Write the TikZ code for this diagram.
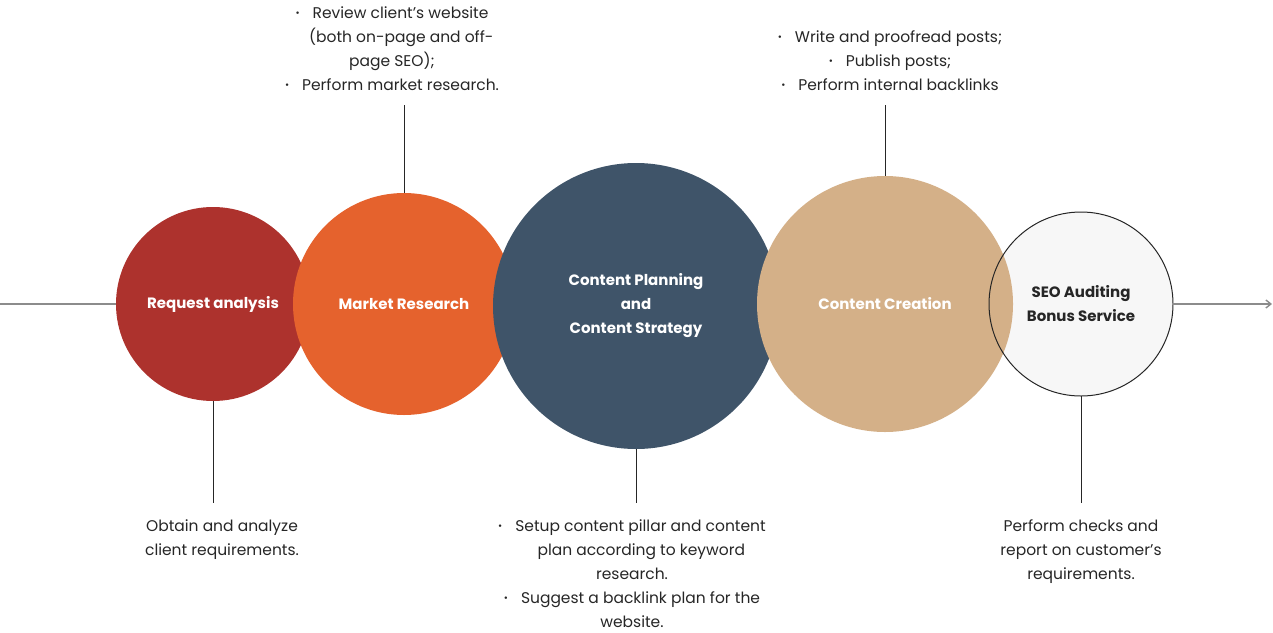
\documentclass[tikz,border=0pt]{standalone}
\usepackage{fontspec}
\setmainfont{Poppins}
\usetikzlibrary{arrows.meta, positioning}
\definecolor{reqred}{RGB}{173,50,45}
\definecolor{mktorange}{RGB}{229,98,45}
\definecolor{planslate}{RGB}{63,84,105}
\definecolor{createtan}{RGB}{212,176,136}
\definecolor{auditgray}{RGB}{247,247,247}
\definecolor{textdark}{RGB}{38,38,38}
\definecolor{flowgray}{RGB}{140,140,140}
\newcommand{\bul}{\makebox[1.1em][l]{\raisebox{0.12em}{\fontsize{10}{10}\selectfont •}}}

\begin{document}
\begin{tikzpicture}[
        x=1pt, y=-1pt,
        stage/.style={circle, inner sep=0pt, align=center, text=white,
                      font=\fontsize{15}{24}\selectfont\bfseries},
        note/.style={align=center, inner sep=0pt, text=textdark,
                     font=\fontsize{15.5}{24}\selectfont},
        link/.style={line width=1pt, textdark},
        flow/.style={line width=1.4pt, flowgray},
      ]
        \useasboundingbox (0,0) rectangle (1273,632);

        % Stages, each one over the last
        \node[stage, fill=reqred, minimum size=194pt]    (req)  at (213,304) {Request analysis};
        \node[stage, fill=mktorange, minimum size=222pt] (mkt)  at (404,304) {Market Research};
        \node[stage, fill=planslate, minimum size=286pt] (plan) at (636,306) {Content Planning\\and\\Content Strategy};
        \node[stage, fill=auditgray, text=textdark, minimum size=184pt] (audit) at (1081,304) {SEO Auditing\\Bonus Service};
        \node[stage, fill=createtan, minimum size=256pt] (create) at (885,304) {Content Creation};
        \draw[line width=1pt, textdark] (audit.center) circle[radius=92];

        % Flow in and out
        \coordinate (start) at (0,304);
        \coordinate (finish) at (1272,304);
        \draw[flow] (start) -- (req.west);
        \draw[flow, -{Straight Barb[length=5pt, width=8pt]}] (audit.east) -- (finish);

        % Leader ends
        \coordinate (reqend)    at (213,503);
        \coordinate (mktend)    at (404,105);
        \coordinate (planend)   at (636,503);
        \coordinate (createend) at (885,105);
        \coordinate (auditend)  at (1081,503);

        \draw[link] (req.south)    -- (reqend);
        \draw[link] (mkt.north)    -- (mktend);
        \draw[link] (plan.south)   -- (planend);
        \draw[link] (create.north) -- (createend);
        \draw[link] (audit.south)  -- (auditend);

        % Notes
        \node[note, below=16pt of reqend, xshift=9pt] (reqnote)
          {Obtain and analyze\\client requirements.};
        \node[note, above=14pt of mktend, xshift=-12pt] (mktnote)
          {\bul Review client’s website\\ \hspace{1.2em}(both on-page and off-\\page SEO);\\\bul Perform market research.};
        \node[note, below=16pt of planend, xshift=-4pt] (plannote)
          {\bul Setup content pillar and content\\ \hspace{1.2em}plan according to keyword\\research.\\\bul Suggest a backlink plan for the\\website.};
        \node[note, above=14pt of createend, xshift=5pt] (createnote)
          {\bul Write and proofread posts;\\\bul Publish posts;\\\bul Perform internal backlinks};
        \node[note, below=16pt of auditend] (auditnote)
          {Perform checks and\\report on customer’s\\requirements.};
      \end{tikzpicture}
\end{document}
